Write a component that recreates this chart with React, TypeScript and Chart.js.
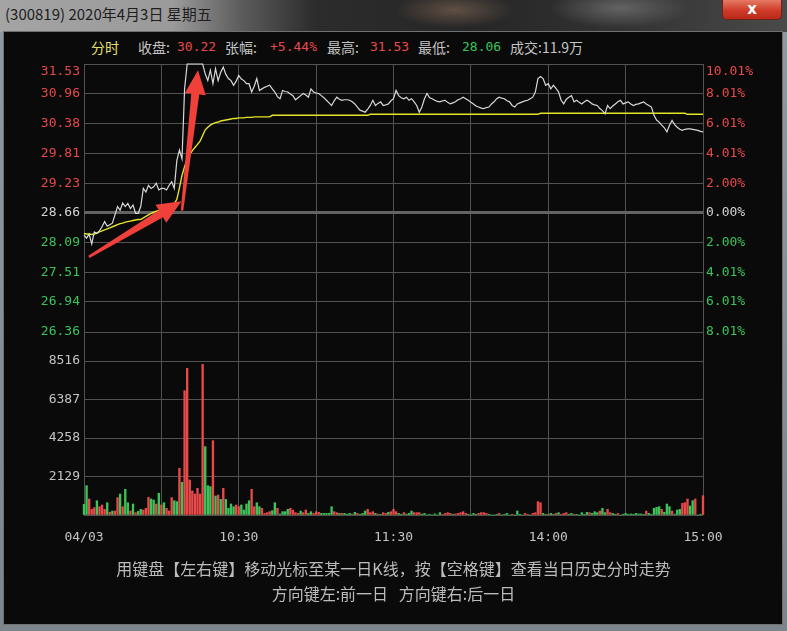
import React, { useEffect, useRef } from 'react';
import { Chart, registerables } from 'chart.js';

Chart.register(...registerables);

// ---- quote meta ----
const titleText = '(300819) 2020年4月3日 星期五';
const preClose = 28.66;
const totalVolumeText = '11.9万';

// ---- minute prices, 9:30 .. 15:00 (241 points) ----
const prices = [
  28.23, 28.17, 28.25, 28.06, 28.29, 28.26, 28.31, 28.39, 28.49, 28.40,
  28.43, 28.46, 28.62, 28.78, 28.71, 28.85, 28.78, 28.84, 28.74, 28.81,
  28.65, 28.65, 28.78, 29.13, 29.06, 29.19, 29.13, 29.16, 29.23, 29.10,
  29.13, 29.13, 29.10, 29.19, 29.26, 29.13, 29.67, 29.87, 29.70, 31.05,
  31.53, 31.53, 31.53, 31.53, 31.53, 31.53, 31.53, 31.34, 31.21, 31.41,
  31.15, 31.44, 31.21, 31.37, 31.47, 31.33, 31.25, 31.21, 31.12, 31.20,
  31.31, 31.24, 31.21, 31.15, 31.15, 30.99, 31.10, 31.25, 31.02, 31.05,
  31.08, 31.10, 31.12, 31.05, 30.99, 30.90, 30.86, 31.02, 31.00, 30.99,
  30.95, 30.92, 30.84, 30.88, 30.92, 30.96, 30.93, 30.89, 31.05, 30.99,
  30.97, 30.96, 30.92, 30.88, 30.83, 30.78, 30.73, 30.82, 30.89, 30.85,
  30.83, 30.84, 30.84, 30.83, 30.80, 30.76, 30.70, 30.64, 30.62, 30.60,
  30.66, 30.73, 30.83, 30.73, 30.77, 30.80, 30.73, 30.74, 30.76, 30.82,
  30.86, 31.02, 30.92, 30.88, 30.86, 30.89, 30.83, 30.86, 30.80, 30.73,
  30.60, 30.70, 30.86, 30.96, 30.88, 30.86, 30.83, 30.81, 30.80, 30.82,
  30.83, 30.79, 30.76, 30.78, 30.80, 30.84, 30.86, 30.89, 30.86, 30.83,
  30.79, 30.76, 30.72, 30.70, 30.68, 30.67, 30.69, 30.70, 30.76, 30.80,
  30.86, 30.89, 30.87, 30.86, 30.82, 30.80, 30.73, 30.70, 30.76, 30.78,
  30.80, 30.82, 30.83, 30.86, 30.89, 30.99, 31.25, 31.29, 31.25, 31.12,
  31.15, 31.05, 31.12, 31.06, 30.99, 30.83, 30.76, 30.85, 30.89, 30.92,
  30.80, 30.83, 30.79, 30.76, 30.80, 30.83, 30.80, 30.76, 30.74, 30.73,
  30.67, 30.63, 30.57, 30.73, 30.67, 30.72, 30.76, 30.80, 30.83, 30.76,
  30.78, 30.80, 30.76, 30.73, 30.75, 30.76, 30.78, 30.80, 30.76, 30.73,
  30.70, 30.54, 30.45, 30.41, 30.35, 30.30, 30.22, 30.35, 30.44, 30.36,
  30.31, 30.27, 30.25, 30.27, 30.28, 30.28, 30.27, 30.26, 30.25, 30.23,
  30.22,
];

// ---- average price line ----
const avgPrices = [
  28.26, 28.25, 28.25, 28.24, 28.25, 28.27, 28.29, 28.31, 28.33, 28.35,
  28.37, 28.39, 28.41, 28.43, 28.45, 28.46, 28.48, 28.49, 28.50, 28.51,
  28.52, 28.53, 28.53, 28.56, 28.59, 28.62, 28.65, 28.67, 28.69, 28.70,
  28.71, 28.73, 28.74, 28.76, 28.79, 28.83, 28.92, 29.14, 29.38, 29.55,
  29.70, 29.78, 29.86, 29.92, 29.98, 30.04, 30.15, 30.26, 30.31, 30.35,
  30.38, 30.40, 30.41, 30.43, 30.44, 30.45, 30.46, 30.47, 30.48, 30.48,
  30.49, 30.49, 30.49, 30.50, 30.50, 30.50, 30.51, 30.51, 30.51, 30.51,
  30.51, 30.51, 30.51, 30.54, 30.54, 30.54, 30.54, 30.54, 30.54, 30.54,
  30.54, 30.54, 30.54, 30.54, 30.54, 30.54, 30.54, 30.54, 30.54, 30.54,
  30.54, 30.54, 30.54, 30.54, 30.54, 30.54, 30.54, 30.54, 30.54, 30.54,
  30.54, 30.54, 30.54, 30.54, 30.54, 30.54, 30.54, 30.54, 30.54, 30.54,
  30.54, 30.56, 30.56, 30.56, 30.56, 30.56, 30.56, 30.56, 30.56, 30.56,
  30.56, 30.56, 30.56, 30.56, 30.56, 30.56, 30.56, 30.56, 30.56, 30.56,
  30.56, 30.56, 30.56, 30.56, 30.56, 30.56, 30.56, 30.56, 30.56, 30.56,
  30.56, 30.56, 30.56, 30.56, 30.56, 30.56, 30.56, 30.56, 30.56, 30.56,
  30.56, 30.56, 30.56, 30.56, 30.56, 30.56, 30.56, 30.56, 30.56, 30.56,
  30.56, 30.56, 30.56, 30.56, 30.56, 30.56, 30.56, 30.56, 30.56, 30.56,
  30.56, 30.56, 30.56, 30.56, 30.56, 30.56, 30.56, 30.58, 30.58, 30.58,
  30.58, 30.58, 30.58, 30.58, 30.58, 30.58, 30.58, 30.58, 30.58, 30.58,
  30.58, 30.58, 30.58, 30.58, 30.58, 30.58, 30.58, 30.58, 30.58, 30.58,
  30.58, 30.58, 30.58, 30.58, 30.58, 30.58, 30.58, 30.58, 30.58, 30.58,
  30.58, 30.58, 30.58, 30.58, 30.58, 30.58, 30.58, 30.58, 30.58, 30.58,
  30.58, 30.58, 30.58, 30.58, 30.58, 30.58, 30.58, 30.58, 30.58, 30.58,
  30.58, 30.58, 30.58, 30.58, 30.56, 30.56, 30.56, 30.56, 30.56, 30.56,
  30.56,
];

// ---- minute volume (lots) ----
const volumes = [
  590, 1620, 885, 313, 405, 790, 460, 553, 313, 680,
  150, 220, 220, 960, 1160, 460, 1420, 680, 220, 610,
  130, 200, 313, 276, 370, 975, 885, 830, 610, 1200,
  553, 680, 370, 220, 960, 790, 740, 2580, 1810, 6875,
  8110, 1935, 1330, 1160, 1475, 1160, 8330, 3780, 1620, 1570,
  4110, 1050, 1105, 865, 1475, 865, 370, 610, 460, 553,
  460, 553, 276, 610, 790, 1420, 460, 680, 460, 370,
  90, 130, 185, 240, 680, 370, 55, 185, 185, 313,
  370, 276, 130, 90, 220, 130, 276, 90, 185, 90,
  185, 150, 90, 90, 90, 90, 460, 185, 130, 90,
  90, 90, 50, 90, 50, 150, 90, 40, 90, 220,
  313, 130, 185, 90, 50, 40, 130, 90, 150, 185,
  313, 185, 90, 40, 130, 50, 90, 220, 130, 130,
  130, 50, 90, 0, 40, 0, 60, 0, 130, 40,
  90, 130, 90, 40, 60, 90, 130, 185, 90, 40,
  0, 90, 40, 90, 130, 130, 90, 40, 0, 0,
  40, 90, 0, 40, 90, 0, 40, 0, 220, 40,
  0, 90, 40, 0, 90, 130, 740, 680, 90, 40,
  40, 90, 40, 90, 130, 40, 90, 130, 40, 90,
  40, 40, 0, 130, 40, 150, 130, 90, 185, 130,
  220, 370, 130, 313, 130, 90, 40, 90, 0, 40,
  90, 40, 60, 40, 90, 60, 60, 40, 220, 90,
  40, 370, 424, 460, 313, 150, 608, 460, 221, 50,
  276, 313, 645, 682, 885, 498, 792, 885, 0, 40,
  1069,
];

// 1 = buy-side (red) bar, 0 = sell-side (green) bar
const volumeUp = [
  0, 0, 1, 1, 1, 0, 1, 1, 1, 0,
  1, 0, 1, 1, 0, 1, 0, 0, 1, 0,
  1, 0, 0, 1, 1, 1, 0, 0, 1, 0,
  1, 0, 1, 1, 1, 0, 0, 1, 0, 1,
  1, 1, 1, 1, 1, 1, 1, 0, 0, 0,
  1, 0, 1, 0, 1, 0, 0, 0, 0, 1,
  1, 0, 0, 0, 0, 1, 1, 0, 0, 1,
  1, 1, 1, 0, 0, 1, 0, 0, 0, 0,
  1, 1, 1, 1, 0, 1, 1, 0, 0, 1,
  1, 1, 0, 0, 0, 0, 0, 1, 1, 0,
  1, 0, 0, 0, 1, 0, 1, 0, 0, 0,
  1, 1, 1, 0, 1, 0, 1, 1, 0, 1,
  1, 1, 0, 0, 1, 0, 0, 0, 1, 1,
  1, 0, 0, 0, 0, 0, 0, 0, 0, 1,
  1, 1, 1, 0, 1, 1, 1, 1, 1, 0,
  0, 0, 0, 1, 1, 1, 1, 0, 0, 0,
  0, 1, 0, 0, 0, 0, 1, 0, 0, 0,
  0, 1, 1, 0, 1, 1, 1, 1, 0, 0,
  1, 0, 0, 1, 0, 1, 1, 1, 0, 0,
  1, 0, 0, 0, 0, 0, 1, 0, 0, 0,
  1, 0, 0, 1, 1, 0, 0, 1, 0, 0,
  0, 0, 0, 0, 0, 0, 0, 0, 1, 0,
  0, 0, 0, 0, 1, 0, 0, 0, 1, 0,
  0, 0, 1, 1, 1, 0, 0, 1, 0, 0,
  1,
];

// ---- axes ----
const priceTicks = [26.36, 26.94, 27.51, 28.09, 28.66, 29.23, 29.81, 30.38, 30.96, 31.53];
const percentLabels = ['8.01%', '6.01%', '4.01%', '2.00%', '0.00%', '2.00%', '4.01%', '6.01%', '8.01%', '10.01%'];
const volumeTicks = [0, 2129, 4258, 6387, 8516];
const volumeAxisMax = 10120;
const gridMinutes = [0, 30, 60, 90, 120, 150, 180, 210, 240];
const timeLabels = ['04/03', '', '10:30', '', '11:30', '', '14:00', '', '15:00'];

// trend arrows drawn over the price panel, in (minute, price) units
const trendArrows = [
  { from: [1.9, 27.81], to: [37.8, 28.88] },
  { from: [38.0, 28.70], to: [44.2, 31.41] },
];

const FONT_MONO = '"DejaVu Sans Mono", "Liberation Mono", monospace';
const FONT_CJK = '"Noto Sans CJK SC", "Noto Sans", sans-serif';
const RED = '#e84a4a';
const GREEN = '#3cc45a';
const NEUTRAL = '#d2d2d2';
const GREY_TEXT = '#c4c4c4';
const GRID = '#525252';
const ARROW_RED = '#f0403a';

const lastPrice = prices[prices.length - 1];
const highPrice = Math.max(...prices);
const lowPrice = Math.min(...prices);
const changePct = ((lastPrice - preClose) / preClose) * 100;

function priceColor(v: number) {
  if (Math.abs(v - preClose) < 1e-6) return NEUTRAL;
  return v > preClose ? RED : GREEN;
}

function drawArrow(
  ctx: CanvasRenderingContext2D,
  x0: number, y0: number, x1: number, y1: number,
  tailW: number, neckW: number, headLen: number, headW: number,
) {
  const dx = x1 - x0;
  const dy = y1 - y0;
  const len = Math.hypot(dx, dy);
  const ux = dx / len;
  const uy = dy / len;
  const nx = -uy;
  const ny = ux;
  const bx = x1 - ux * headLen;
  const by = y1 - uy * headLen;
  ctx.beginPath();
  ctx.moveTo(x0 + (nx * tailW) / 2, y0 + (ny * tailW) / 2);
  ctx.lineTo(bx + (nx * neckW) / 2, by + (ny * neckW) / 2);
  ctx.lineTo(bx + (nx * headW) / 2, by + (ny * headW) / 2);
  ctx.lineTo(x1, y1);
  ctx.lineTo(bx - (nx * headW) / 2, by - (ny * headW) / 2);
  ctx.lineTo(bx - (nx * neckW) / 2, by - (ny * neckW) / 2);
  ctx.lineTo(x0 - (nx * tailW) / 2, y0 - (ny * tailW) / 2);
  ctx.closePath();
  ctx.fill();
}

const arrowPlugin = {
  id: 'trendArrows',
  afterDatasetsDraw(chart: any) {
    const { ctx, scales } = chart;
    const xs = scales.x;
    const ys = scales.y;
    ctx.save();
    ctx.fillStyle = ARROW_RED;
    trendArrows.forEach((a) => {
      drawArrow(
        ctx,
        xs.getPixelForValue(a.from[0]), ys.getPixelForValue(a.from[1]),
        xs.getPixelForValue(a.to[0]), ys.getPixelForValue(a.to[1]),
        2.5, 8, 24, 21,
      );
    });
    ctx.restore();
  },
};

export default function App() {
  const priceRef = useRef<HTMLCanvasElement>(null);
  const volRef = useRef<HTMLCanvasElement>(null);

  useEffect(() => {
    const priceChart = new Chart(priceRef.current as HTMLCanvasElement, {
      type: 'line',
      data: {
        datasets: [
          {
            data: prices.map((p, i) => ({ x: i, y: p })),
            borderColor: '#d8d8d8',
            borderWidth: 1.2,
            pointRadius: 0,
            tension: 0,
            clip: 4,
          },
          {
            data: avgPrices.map((p, i) => ({ x: i, y: p })),
            borderColor: '#e4e428',
            borderWidth: 1.4,
            pointRadius: 0,
            tension: 0,
            clip: 4,
          },
        ],
      },
      options: {
        animation: false,
        responsive: false,
        events: [],
        layout: { padding: { top: 24, bottom: 16, left: 0, right: 0 } },
        plugins: { legend: { display: false }, tooltip: { enabled: false } },
        scales: {
          x: {
            type: 'linear',
            min: 0,
            max: 240,
            afterBuildTicks: (s: any) => {
              s.ticks = gridMinutes.map((v) => ({ value: v }));
            },
            afterFit: (s: any) => {
              s.height = 0;
            },
            ticks: { display: false },
            grid: { color: GRID, lineWidth: 1, drawTicks: false },
            border: { display: false },
          },
          y: {
            type: 'linear',
            position: 'left',
            min: priceTicks[0],
            max: priceTicks[priceTicks.length - 1],
            afterBuildTicks: (s: any) => {
              s.ticks = priceTicks.map((v) => ({ value: v }));
            },
            afterFit: (s: any) => {
              s.width = 84;
            },
            ticks: {
              autoSkip: false,
              padding: 4,
              font: { family: FONT_MONO, size: 13 },
              color: (ctx: any) => priceColor(ctx.tick.value),
              callback: (v: any, i: number) => {
                const label = Number(v).toFixed(2);
                return i === priceTicks.length - 1 ? ['', label] : label;
              },
            },
            grid: {
              drawTicks: false,
              color: (ctx: any) =>
                ctx.tick && Math.abs(ctx.tick.value - preClose) < 1e-6 ? '#626262' : GRID,
              lineWidth: (ctx: any) =>
                ctx.tick && Math.abs(ctx.tick.value - preClose) < 1e-6 ? 3 : 1,
            },
            border: { display: false },
          },
          yPct: {
            type: 'linear',
            position: 'right',
            min: priceTicks[0],
            max: priceTicks[priceTicks.length - 1],
            afterBuildTicks: (s: any) => {
              s.ticks = priceTicks.map((v) => ({ value: v }));
            },
            afterFit: (s: any) => {
              s.width = 84;
            },
            ticks: {
              autoSkip: false,
              padding: 3,
              font: { family: FONT_MONO, size: 13 },
              color: (ctx: any) => priceColor(ctx.tick.value),
              callback: (_v: any, i: number) =>
                i === priceTicks.length - 1 ? ['', percentLabels[i]] : percentLabels[i],
            },
            grid: { display: false, drawTicks: false },
            border: { display: false },
          },
        },
      } as any,
      plugins: [arrowPlugin],
    });

    const volumeChart = new Chart(volRef.current as HTMLCanvasElement, {
      type: 'bar',
      data: {
        datasets: [
          {
            data: volumes.map((v, i) => ({ x: i, y: v })),
            backgroundColor: volumeUp.map((u) => (u ? RED : GREEN)),
            barThickness: 1.7,
            clip: 4,
          } as any,
        ],
      },
      options: {
        animation: false,
        responsive: false,
        events: [],
        layout: { padding: { top: 12, bottom: 0, left: 0, right: 84 } },
        plugins: { legend: { display: false }, tooltip: { enabled: false } },
        scales: {
          x: {
            type: 'linear',
            min: 0,
            max: 240,
            offset: false,
            afterBuildTicks: (s: any) => {
              s.ticks = gridMinutes.map((v) => ({ value: v }));
            },
            afterFit: (s: any) => {
              s.height = 40;
            },
            ticks: {
              autoSkip: false,
              maxRotation: 0,
              padding: 15,
              color: GREY_TEXT,
              font: { family: FONT_MONO, size: 13 },
              callback: (_v: any, i: number) => timeLabels[i],
            },
            grid: { color: GRID, lineWidth: 1, drawTicks: false, offset: false },
            border: { display: false },
          },
          y: {
            type: 'linear',
            position: 'left',
            min: 0,
            max: volumeAxisMax,
            afterBuildTicks: (s: any) => {
              s.ticks = volumeTicks.map((v) => ({ value: v }));
            },
            afterFit: (s: any) => {
              s.width = 84;
            },
            ticks: {
              autoSkip: false,
              padding: 4,
              color: GREY_TEXT,
              font: { family: FONT_MONO, size: 13 },
              callback: (v: any) => (Number(v) === 0 ? '' : String(v)),
            },
            grid: { color: GRID, lineWidth: 1, drawTicks: false },
            border: { display: false },
          },
        },
      } as any,
    });

    return () => {
      priceChart.destroy();
      volumeChart.destroy();
    };
  }, []);

  const headerItem = (left: number, text: string, color: string, mono = false) => (
    <span
      style={{
        position: 'absolute',
        left,
        top: 38,
        lineHeight: '18px',
        fontSize: mono ? 13 : 14,
        fontFamily: mono ? FONT_MONO : FONT_CJK,
        color,
        whiteSpace: 'pre',
      }}
    >
      {text}
    </span>
  );

  return (
    <div
      style={{
        position: 'fixed',
        left: 0,
        top: 0,
        width: 787,
        height: 631,
        overflow: 'hidden',
        background: 'linear-gradient(180deg, #8f9aa3 0%, #7d858c 100%)',
      }}
    >
      {/* title bar */}
      <div
        style={{
          position: 'absolute',
          left: 0,
          top: 0,
          width: 787,
          height: 32,
          background:
            'radial-gradient(ellipse 60px 18px at 455px 10px, rgba(110,90,75,0.8), rgba(0,0,0,0)),' +
            'radial-gradient(ellipse 70px 20px at 620px 8px, rgba(120,120,120,0.7), rgba(0,0,0,0)),' +
            'linear-gradient(90deg, #a4a4a4 0%, #9a9a9a 22%, #5a5a5a 31%, #2c2c2c 40%, #262626 60%, #333 80%, #4a4a4a 100%)',
        }}
      />
      <div
        style={{
          position: 'absolute',
          left: 5,
          top: 4,
          lineHeight: '20px',
          fontSize: 15,
          fontFamily: FONT_CJK,
          color: '#1e1e1e',
          whiteSpace: 'pre',
        }}
      >
        {titleText}
      </div>
      <div
        style={{
          position: 'absolute',
          left: 722,
          top: 0,
          width: 60,
          height: 20,
          boxSizing: 'border-box',
          border: '1px solid #6e2218',
          borderTop: 'none',
          borderRadius: '0 0 5px 5px',
          background: 'linear-gradient(180deg, #e57a64 0%, #cf3b28 55%, #b8281a 100%)',
          color: '#ffffff',
          fontFamily: '"DejaVu Sans", sans-serif',
          fontWeight: 'bold',
          fontSize: 15,
          lineHeight: '18px',
          textAlign: 'center',
        }}
      >
        x
      </div>

      {/* black panel */}
      <div
        style={{
          position: 'absolute',
          left: 3,
          top: 31,
          width: 780,
          height: 594,
          boxSizing: 'border-box',
          border: '1px solid #707070',
          background: '#0a0a0a',
        }}
      />

      {/* quote header */}
      {headerItem(91, '分时', '#e6e070')}
      {headerItem(138, '收盘:', GREY_TEXT)}
      {headerItem(177, lastPrice.toFixed(2), RED, true)}
      {headerItem(225, '张幅:', GREY_TEXT)}
      {headerItem(270, `${changePct >= 0 ? '+' : ''}${changePct.toFixed(2)}%`, RED, true)}
      {headerItem(327, '最高:', GREY_TEXT)}
      {headerItem(370, highPrice.toFixed(2), RED, true)}
      {headerItem(418, '最低:', GREY_TEXT)}
      {headerItem(462, lowPrice.toFixed(2), GREEN, true)}
      {headerItem(510, `成交:${totalVolumeText}`, GREY_TEXT)}

      <canvas
        ref={priceRef}
        width={787}
        height={308}
        style={{ position: 'absolute', left: 0, top: 40, width: 787, height: 308 }}
      />
      <canvas
        ref={volRef}
        width={787}
        height={235}
        style={{ position: 'absolute', left: 0, top: 320, width: 787, height: 235 }}
      />

      {/* footer hints */}
      <div
        style={{
          position: 'absolute',
          left: 0,
          width: 787,
          top: 557,
          lineHeight: '22px',
          textAlign: 'center',
          fontSize: 16,
          fontFamily: FONT_CJK,
          color: '#bcbcbc',
          whiteSpace: 'pre',
        }}
      >
        用键盘【左右键】移动光标至某一日K线，按【空格键】查看当日历史分时走势
      </div>
      <div
        style={{
          position: 'absolute',
          left: 0,
          width: 787,
          top: 582,
          lineHeight: '22px',
          textAlign: 'center',
          fontSize: 16,
          fontFamily: FONT_CJK,
          color: '#bcbcbc',
          whiteSpace: 'pre',
        }}
      >
        方向键左:前一日   方向键右:后一日
      </div>
    </div>
  );
}
